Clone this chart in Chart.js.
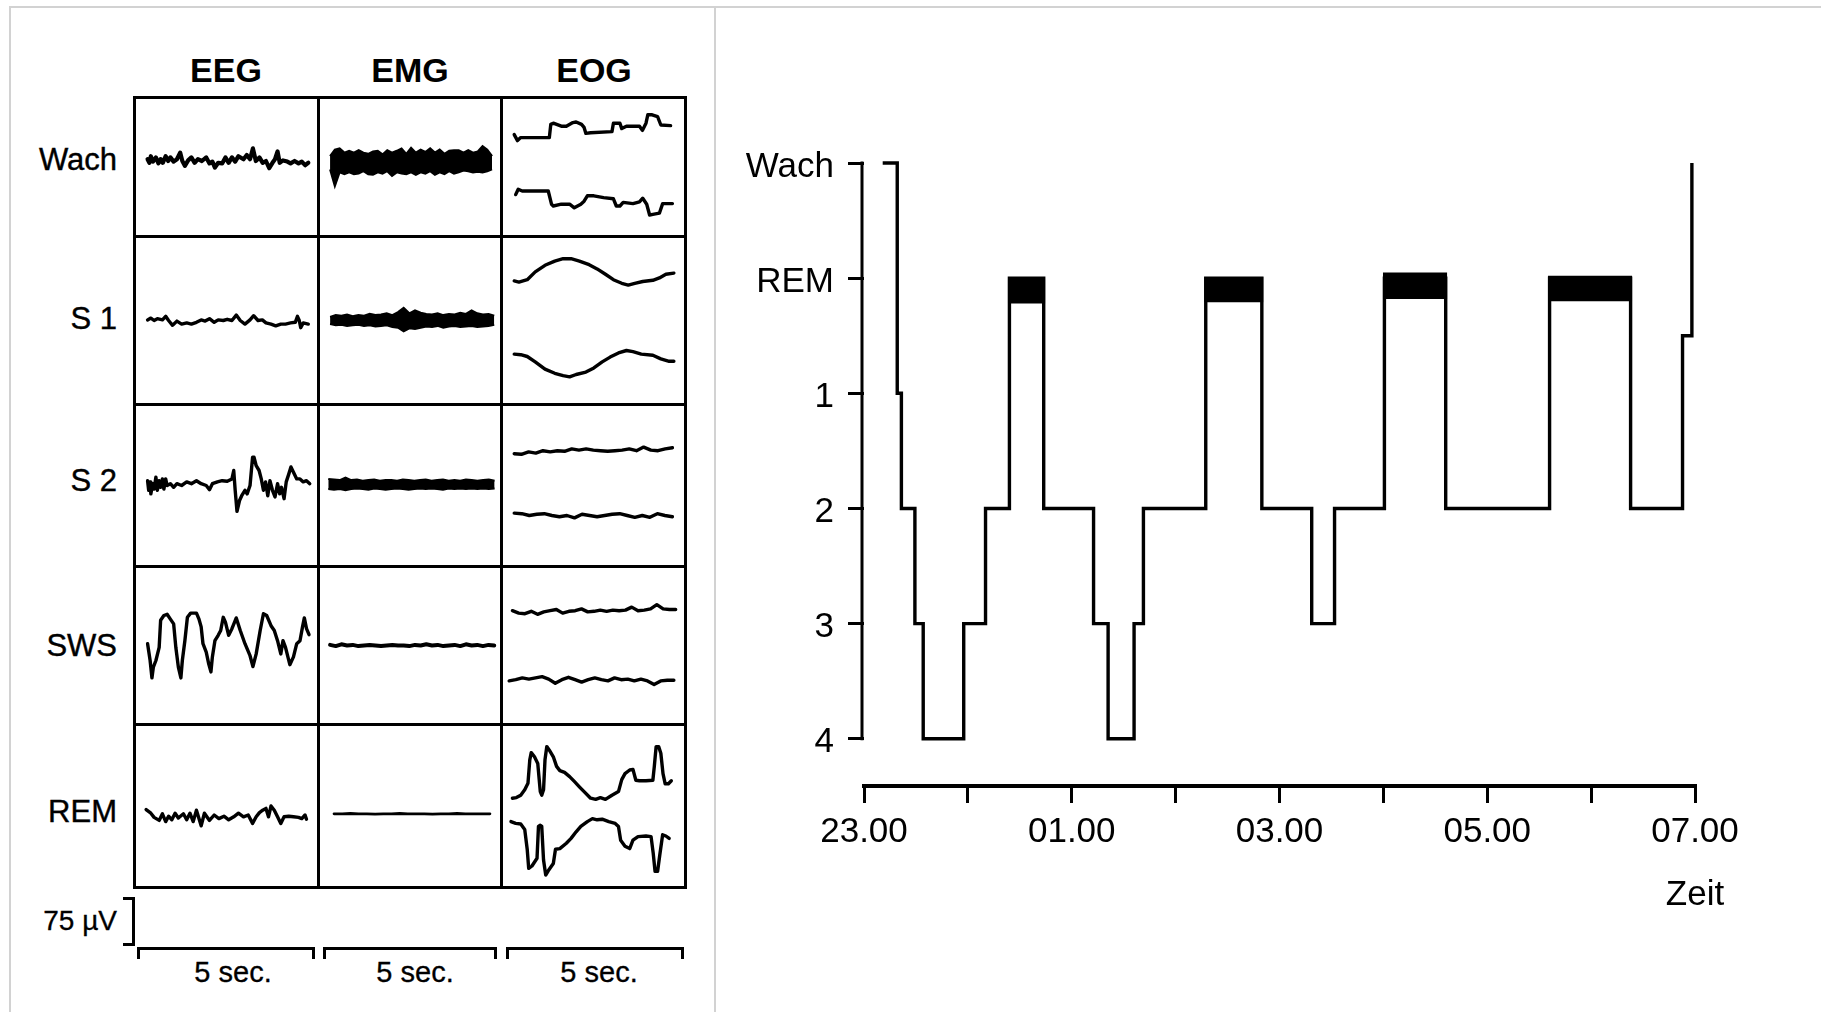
<!doctype html>
<html lang="de">
<head>
<meta charset="utf-8">
<title>Schlafstadien – Polysomnographie und Hypnogramm</title>
<script src="https://cdn.jsdelivr.net/npm/chart.js"></script>
<style>
  body {
    margin: 0;
    width: 1821px;
    height: 1012px;
    overflow: hidden;
    position: relative;
    background: #fff;
    color: #000;
    font-family: 'Liberation Sans', Arial, Helvetica, sans-serif;
  }
  .frame { position: absolute; box-sizing: border-box; border: 2px solid #d2d2d2; }
  #leftFrame { left: 9px; top: 6px; width: 707px; height: 1100px; }
  #rightFrame { left: 714px; top: 6px; width: 1200px; height: 1100px; border-left: none; }

  .colHead {
    position: absolute; top: 53px; width: 186px;
    font-weight: bold; font-size: 34px; line-height: 34px; text-align: center;
  }
  .rowHead {
    position: absolute; left: 0; width: 117px;
    font-size: 31px; line-height: 32px; text-align: right;
    -webkit-text-stroke: 0.4px #000;
  }
  #grid {
    position: absolute; left: 133px; top: 96px;
    display: grid;
    grid-template-columns: 181px 180px 181px;
    grid-template-rows: 136px 165px 159px 155px 160px;
    gap: 3px; padding: 3px; background: #000;
  }
  #grid > div { background: #fff; position: relative; overflow: hidden; }
  #grid canvas { display: block; }

  #calLabel { position: absolute; left: 0; width: 117px; top: 906px; font-size: 28px; line-height: 30px; text-align: right; -webkit-text-stroke: 0.3px #000; }
  #calBar { position: absolute; left: 123px; top: 897px; width: 9px; height: 43px; border: 3px solid #000; border-left: none; }
  .secBar { position: absolute; top: 947px; height: 9px; border: 3px solid #000; border-bottom: none; }
  .secLabel { position: absolute; top: 957px; width: 186px; font-size: 29px; line-height: 30px; text-align: center; -webkit-text-stroke: 0.3px #000; }

  #hypno { position: absolute; left: 714px; top: 0; }
</style>
</head>
<body>
  <div class="frame" id="leftFrame"></div>
  <div class="frame" id="rightFrame"></div>

  <div class="colHead" style="left:133px">EEG</div>
  <div class="colHead" style="left:317px">EMG</div>
  <div class="colHead" style="left:501px">EOG</div>

  <div class="rowHead" style="top:144px">Wach</div>
  <div class="rowHead" style="top:303px">S 1</div>
  <div class="rowHead" style="top:465px">S 2</div>
  <div class="rowHead" style="top:630px">SWS</div>
  <div class="rowHead" style="top:796px">REM</div>

  <div id="grid"></div>

  <div id="calLabel">75 µV</div>
  <div id="calBar"></div>
  <div class="secBar" style="left:137px;width:172px"></div>
  <div class="secBar" style="left:323px;width:168px"></div>
  <div class="secBar" style="left:506px;width:172px"></div>
  <div class="secLabel" style="left:140px">5 sec.</div>
  <div class="secLabel" style="left:322px">5 sec.</div>
  <div class="secLabel" style="left:506px">5 sec.</div>

  <canvas id="hypno" width="1107" height="1012"></canvas>

<script>
// ---- Hypnogramm: Stadien über die Nacht (Stunden nach 23.00) ----
const stageLabels = ['Wach', 'REM', '1', '2', '3', '4'];
const hourLabels = ['23.00', '', '01.00', '', '03.00', '', '05.00', '', '07.00'];
const stageTimes  = [0.18, 0.32, 0.36, 0.49, 0.57, 0.96, 1.17, 1.40, 1.73, 2.21, 2.35, 2.60,
                     2.69, 3.29, 3.83, 4.31, 4.53, 5.01, 5.60, 6.60, 7.38, 7.88, 7.97];
const stageValues = [0, 2, 3, 4, 5, 4, 3, 1, 3, 4, 5, 4,
                     3, 1, 3, 4, 3, 1, 3, 1, 3, 1.5, 0];
const remStart  = [1.40, 3.29, 5.01, 6.60];
const remEnd    = [1.73, 3.83, 5.60, 7.38];
const remTop    = [1.00, 0.99, 0.95, 0.98];
const remBottom = [1.22, 1.21, 1.18, 1.20];
const timeTitle = 'Zeit';

// ---- Beispielableitungen je Stadium, 5 s pro Feld, Werte in µV ----
// [Zeit s, µV]
const eegWach = [[0.32,13],[0.37,7],[0.41,18],[0.47,9],[0.55,16],[0.62,6],[0.68,13],[0.74,7],[0.82,18],[0.89,10],
  [0.95,16],[1.04,9],[1.13,13],[1.22,24],[1.28,10],[1.35,2],[1.44,11],[1.53,16],[1.62,7],[1.71,13],[1.82,10],
  [1.94,16],[2.03,6],[2.11,9],[2.18,-1],[2.27,7],[2.38,6],[2.47,16],[2.56,7],[2.65,16],[2.74,9],[2.83,18],
  [2.97,13],[3.06,20],[3.15,13],[3.23,31],[3.31,10],[3.41,16],[3.50,7],[3.59,10],[3.68,-2],[3.77,7],[3.84,13],
  [3.91,26],[3.97,7],[4.06,11],[4.18,9],[4.27,6],[4.38,10],[4.49,6],[4.58,9],[4.67,3],[4.76,7]];
const eegS1 = [[0.32,1],[0.41,4],[0.50,0],[0.59,3],[0.73,1],[0.82,7],[0.90,0],[1.01,-8],[1.13,-1],[1.26,-6],
  [1.40,-4],[1.53,-6],[1.67,-3],[1.80,1],[1.91,-1],[2.03,3],[2.16,-3],[2.27,1],[2.41,0],[2.52,2],[2.65,0],
  [2.77,9],[2.88,0],[3.01,-6],[3.15,1],[3.25,8],[3.37,0],[3.49,1],[3.59,-4],[3.73,-6],[3.86,-9],[4.00,-6],
  [4.13,-6],[4.27,-4],[4.40,-3],[4.46,7],[4.51,0],[4.55,-12],[4.62,-4],[4.76,-6]];
const eegS2 = [[0.32,8],[0.35,-8],[0.39,6],[0.41,-14],[0.46,3],[0.50,-6],[0.55,14],[0.59,-8],[0.64,8],[0.68,-3],
  [0.73,11],[0.77,-6],[0.82,11],[0.86,0],[0.95,3],[1.04,-3],[1.13,3],[1.26,0],[1.40,6],[1.53,3],[1.67,8],
  [1.80,3],[1.94,0],[2.03,-7],[2.11,3],[2.25,6],[2.38,8],[2.52,7],[2.65,11],[2.70,25],[2.74,-8],[2.79,-43],
  [2.86,-25],[2.92,-17],[3.01,-8],[3.07,-14],[3.15,0],[3.22,47],[3.26,47],[3.32,33],[3.40,25],[3.46,11],
  [3.52,-8],[3.58,6],[3.64,-17],[3.70,8],[3.77,-8],[3.84,-19],[3.91,3],[3.97,-14],[4.02,-3],[4.09,-22],
  [4.15,6],[4.22,19],[4.28,31],[4.35,22],[4.44,11],[4.53,11],[4.62,6],[4.71,8],[4.80,3]];
const eegSws = [[0.32,3],[0.39,-25],[0.44,-54],[0.48,-36],[0.55,-25],[0.64,-3],[0.68,42],[0.77,50],[0.86,52],
  [0.95,44],[1.04,36],[1.10,-3],[1.17,-36],[1.24,-54],[1.28,-25],[1.35,8],[1.42,47],[1.51,54],[1.67,54],
  [1.74,44],[1.80,31],[1.85,3],[1.94,-11],[2.01,-31],[2.07,-44],[2.11,-19],[2.18,8],[2.27,17],[2.34,25],
  [2.41,47],[2.47,39],[2.56,17],[2.65,28],[2.77,46],[2.88,25],[3.01,3],[3.15,-17],[3.23,-35],[3.32,-14],
  [3.43,25],[3.52,53],[3.61,50],[3.73,33],[3.82,25],[3.91,8],[4.00,-14],[4.06,8],[4.13,-3],[4.25,-32],
  [4.35,-19],[4.44,3],[4.53,8],[4.60,31],[4.65,46],[4.71,28],[4.78,18]];
const eegRem = [[0.28,-6],[0.41,-12],[0.50,-19],[0.64,-24],[0.73,-13],[0.82,-26],[0.90,-17],[0.99,-23],[1.08,-12],
  [1.17,-20],[1.31,-13],[1.40,-23],[1.49,-12],[1.58,-26],[1.67,-7],[1.80,-33],[1.89,-12],[2.03,-24],[2.16,-15],
  [2.29,-21],[2.43,-17],[2.56,-23],[2.70,-18],[2.83,-12],[2.97,-18],[3.10,-15],[3.22,-29],[3.32,-18],[3.41,-11],
  [3.50,-7],[3.59,-4],[3.66,-18],[3.73,0],[3.82,-7],[3.91,-18],[4.00,-29],[4.09,-18],[4.22,-17],[4.35,-18],
  [4.49,-19],[4.58,-21],[4.67,-15],[4.71,-22]];

// EMG: Hüllkurve oben/unten, gleichmäßig über die Aufzeichnungsdauer
const emgWachSpan = [0.28, 4.78];
const emgWachTop = [18,29,31,24,27,24,28,24,22,26,27,21,28,24,27,31,22,32,24,29,25,31,24,29,22,27,28,28,24,28,24,26,35,29,18];
const emgWachBottom = [-4,-32,-9,-12,-9,-12,-11,-7,-12,-13,-9,-11,-7,-15,-9,-11,-12,-9,-13,-9,-11,-7,-13,-9,-12,-7,-11,-9,-6,-7,-9,-8,-9,-7,-4];
const emgS1Span = [0.28, 4.84];
const emgS1Top = [6,9,8,10,7,9,8,11,9,10,12,9,14,21,12,17,13,11,10,12,9,11,10,13,11,17,12,10,11,8];
const emgS1Bottom = [-6,-8,-7,-9,-8,-7,-9,-8,-10,-9,-8,-11,-12,-18,-13,-14,-12,-10,-11,-9,-12,-10,-9,-11,-10,-9,-11,-10,-9,-7];
const emgS2Span = [0.23, 4.85];
const emgS2Top = [11,10,9,13,9,10,8,9,10,8,9,9,8,10,9,8,9,10,8,9,10,8,9,8,10,9,8,9,10,8];
const emgS2Bottom = [-6,-7,-6,-8,-6,-5,-6,-7,-5,-6,-7,-6,-5,-6,-7,-6,-5,-6,-5,-6,-7,-5,-6,-5,-6,-5,-6,-5,-6,-5];
const emgSwsSpan = [0.28, 4.84];
const emgSws = [1,-1,2,0,1,-1,0,1,0,-1,0,1,0,0,-1,1,0,2,0,1,-1,0,1,-1,2,0,1,-1,1,0];
const emgRemSpan = [0.39, 4.72];
const emgRem = [-13,-13,-12.5,-13,-13,-13.5,-13,-13,-12.5,-13,-13,-13,-13.5,-13,-13,-12.5,-13,-13,-13,-13];

// EOG: zwei Kanäle je Feld
const eogWachUp = [[0.31,54],[0.40,44],[0.49,49],[0.71,49],[1.28,49],[1.32,71],[1.39,73],[1.61,68],[1.75,68],
  [1.93,74],[2.02,75],[2.17,71],[2.24,66],[2.29,56],[2.42,57],[3.01,59],[3.05,73],[3.23,73],[3.28,64],[3.41,68],
  [3.77,68],[3.85,61],[3.95,73],[4.00,87],[4.12,87],[4.27,84],[4.36,70],[4.63,69]];
const eogWachDown = [[0.35,-46],[0.42,-37],[0.53,-40],[0.71,-40],[1.25,-40],[1.34,-62],[1.39,-65],[1.61,-62],
  [1.84,-62],[1.97,-68],[2.15,-62],[2.24,-57],[2.33,-48],[2.51,-48],[2.78,-51],[3.05,-53],[3.13,-65],[3.23,-65],
  [3.32,-59],[3.59,-61],[3.77,-58],[3.86,-52],[3.97,-62],[4.05,-80],[4.14,-79],[4.32,-77],[4.41,-61],[4.68,-61]];
const eogS1Up = [[0.31,66],[0.44,64],[0.67,68],[0.89,81],[1.16,92],[1.43,99],[1.66,103],[1.88,103],[2.11,99],
  [2.38,93],[2.60,86],[2.83,77],[3.05,68],[3.28,62],[3.46,59],[3.64,62],[3.86,65],[4.14,67],[4.32,71],[4.50,77],[4.72,79]];
const eogS1Down = [[0.31,-56],[0.49,-57],[0.67,-60],[0.89,-69],[1.16,-81],[1.43,-88],[1.66,-92],[1.84,-94],[2.02,-90],
  [2.29,-86],[2.51,-79],[2.74,-69],[2.96,-61],[3.19,-54],[3.41,-50],[3.59,-52],[3.82,-56],[4.14,-58],[4.36,-64],[4.59,-68],[4.72,-68]];
const eogS2Span = [0.31, 4.68];
const eogS2Up = [53,52,56,54,58,56,58,57,61,59,61,59,58,57,58,59,61,58,64,59,58,61,63];
const eogS2Down = [-46,-47,-50,-48,-47,-50,-52,-50,-54,-48,-50,-52,-50,-48,-47,-50,-53,-50,-53,-47,-50,-52];
const eogSwsUpSpan = [0.26, 4.77];
const eogSwsUp = [58,54,53,57,52,56,58,60,54,57,58,61,56,57,59,57,59,58,59,64,58,59,61,68,61,60,60];
const eogSwsDownSpan = [0.17, 4.72];
const eogSwsDown = [-59,-57,-54,-56,-54,-52,-56,-63,-57,-53,-57,-61,-57,-54,-57,-59,-54,-57,-56,-59,-56,-59,-65,-59,-58,-58];
const eogRemUp = [[0.26,13],[0.37,14],[0.49,18],[0.60,27],[0.69,38],[0.74,77],[0.78,89],[0.87,82],[0.96,71],[1.03,24],
  [1.07,18],[1.12,27],[1.16,77],[1.21,99],[1.28,93],[1.39,82],[1.48,66],[1.57,59],[1.70,56],[1.84,49],[1.97,41],
  [2.11,32],[2.24,24],[2.42,13],[2.56,11],[2.69,14],[2.83,11],[3.01,18],[3.19,24],[3.28,44],[3.37,54],[3.50,60],
  [3.59,61],[3.67,43],[3.77,42],[3.95,42],[4.14,43],[4.18,66],[4.23,99],[4.30,99],[4.36,88],[4.42,54],[4.48,37],
  [4.57,37],[4.65,42]];
const eogRemDown = [[0.22,-26],[0.35,-29],[0.49,-30],[0.60,-39],[0.67,-73],[0.71,-104],[0.80,-100],[0.94,-87],
  [0.98,-34],[1.03,-32],[1.07,-34],[1.12,-90],[1.18,-115],[1.25,-108],[1.39,-96],[1.45,-72],[1.57,-71],[1.75,-62],
  [1.88,-54],[2.02,-43],[2.15,-34],[2.33,-26],[2.47,-21],[2.60,-23],[2.74,-22],[2.92,-26],[3.10,-29],[3.19,-34],
  [3.25,-57],[3.37,-67],[3.50,-71],[3.59,-57],[3.73,-51],[3.95,-50],[4.09,-51],[4.15,-79],[4.20,-109],[4.27,-109],
  [4.33,-82],[4.41,-48],[4.50,-50],[4.59,-54]];

const ink = '#000';
const fontFamily = "'Liberation Sans', Arial, Helvetica, sans-serif";
Chart.defaults.font.family = fontFamily;
Chart.defaults.color = ink;

const uvPerPx = 75 / 45;   // Eichbalken: 75 µV entsprechen 45 px
const secPerCell = 5;

function pairs(list) {
  return list.map(([x, y]) => ({ x, y }));
}
function sampled(values, span) {
  const [t0, t1] = span;
  return values.map((v, i) => ({ x: t0 + (t1 - t0) * i / (values.length - 1), y: v }));
}
function trace(points, width) {
  return { data: points, borderColor: ink, borderWidth: width || 3.4, pointRadius: 0, tension: 0, fill: false,
           borderJoinStyle: 'round', borderCapStyle: 'round' };
}
function band(top, bottom, span) {
  return [
    { data: sampled(top, span), borderColor: ink, borderWidth: 2, backgroundColor: ink, pointRadius: 0, fill: '+1' },
    { data: sampled(bottom, span), borderColor: ink, borderWidth: 2, pointRadius: 0, fill: false }
  ];
}

// Zeilen: Wach, S1, S2, SWS, REM – Spalten: EEG, EMG, EOG
const cellSets = [
  [[trace(pairs(eegWach), 4.2)], band(emgWachTop, emgWachBottom, emgWachSpan),
   [trace(pairs(eogWachUp)), trace(pairs(eogWachDown))]],
  [[trace(pairs(eegS1))], band(emgS1Top, emgS1Bottom, emgS1Span),
   [trace(pairs(eogS1Up)), trace(pairs(eogS1Down))]],
  [[trace(pairs(eegS2))], band(emgS2Top, emgS2Bottom, emgS2Span),
   [trace(sampled(eogS2Up, eogS2Span)), trace(sampled(eogS2Down, eogS2Span))]],
  [[trace(pairs(eegSws))], [trace(sampled(emgSws, emgSwsSpan), 4)],
   [trace(sampled(eogSwsUp, eogSwsUpSpan)), trace(sampled(eogSwsDown, eogSwsDownSpan))]],
  [[trace(pairs(eegRem))], [trace(sampled(emgRem, emgRemSpan), 2.8)],
   [trace(pairs(eogRemUp)), trace(pairs(eogRemDown))]]
];

const grid = document.getElementById('grid');
cellSets.forEach(row => row.forEach(datasets => {
  const cell = document.createElement('div');
  grid.appendChild(cell);
  const w = cell.clientWidth, h = cell.clientHeight;
  const canvas = document.createElement('canvas');
  canvas.width = w; canvas.height = h;
  canvas.style.width = w + 'px'; canvas.style.height = h + 'px';
  cell.appendChild(canvas);
  const half = h / 2 * uvPerPx;
  new Chart(canvas, {
    type: 'line',
    data: { datasets },
    options: {
      responsive: false,
      animation: false,
      events: [],
      layout: { padding: 0 },
      plugins: { legend: { display: false }, tooltip: { enabled: false } },
      scales: {
        x: { type: 'linear', min: 0, max: secPerCell, display: false },
        y: { type: 'linear', min: -half, max: half, display: false }
      }
    }
  });
}));

// Ordinate bis Stadium 4 und Achsentitel unter dem letzten Zeitstrich
const hypnoAxes = {
  id: 'hypnoAxes',
  afterDraw(chart) {
    const { ctx, scales: { x, y } } = chart;
    ctx.save();
    ctx.strokeStyle = ink;
    ctx.lineWidth = 3;
    ctx.beginPath();
    ctx.moveTo(x.left - 2, y.getPixelForValue(0) - 1.5);
    ctx.lineTo(x.left - 2, y.getPixelForValue(stageLabels.length - 1) + 1.5);
    ctx.stroke();
    ctx.fillStyle = ink;
    ctx.font = '35px ' + fontFamily;
    ctx.textAlign = 'center';
    ctx.textBaseline = 'middle';
    ctx.fillText(timeTitle, x.getPixelForValue(x.max), y.bottom + 109);
    ctx.restore();
  }
};

new Chart(document.getElementById('hypno'), {
  type: 'line',
  data: {
    datasets: [
      ...remStart.map((s, i) => ({
        data: [{ x: s - 0.015, y: remBottom[i] }, { x: remEnd[i] + 0.015, y: remBottom[i] }],
        borderWidth: 0,
        pointRadius: 0,
        backgroundColor: ink,
        fill: { value: remTop[i] },
        clip: false
      })),
      {
        // jeder Punkt: ab diesem Zeitpunkt gilt das Stadium
        data: stageTimes.map((t, i) => ({ x: t, y: stageValues[i] })),
        stepped: 'before',
        borderColor: ink,
        borderWidth: 3.4,
        pointRadius: 0,
        fill: false,
        clip: false
      }
    ]
  },
  options: {
    responsive: false,
    animation: false,
    events: [],
    layout: { padding: { left: 0, top: 163, right: 126, bottom: 126 } },
    plugins: { legend: { display: false }, tooltip: { enabled: false } },
    scales: {
      x: {
        type: 'linear',
        min: 0,
        max: hourLabels.length - 1,
        afterBuildTicks: s => { s.ticks = hourLabels.map((_, i) => ({ value: i })); },
        afterFit: s => { s.height = 100; },
        border: { display: true, color: ink, width: 4 },
        grid: { drawOnChartArea: false, drawTicks: true, tickLength: 17, lineWidth: 3, color: ink },
        ticks: {
          autoSkip: false, maxRotation: 0, padding: 8,
          font: { size: 35 },
          callback: v => hourLabels[v]
        }
      },
      y: {
        type: 'linear',
        reverse: true,
        min: 0,
        max: 5.41,
        afterBuildTicks: s => { s.ticks = stageLabels.map((_, i) => ({ value: i })); },
        afterFit: s => { s.width = 150; },
        border: { display: false },
        grid: { drawOnChartArea: false, drawTicks: true, tickLength: 16, lineWidth: 3, color: ink },
        ticks: {
          autoSkip: false, padding: 14, labelOffset: 4,
          font: { size: 35 },
          callback: v => stageLabels[v]
        }
      }
    }
  },
  plugins: [hypnoAxes]
});
</script>
</body>
</html>
